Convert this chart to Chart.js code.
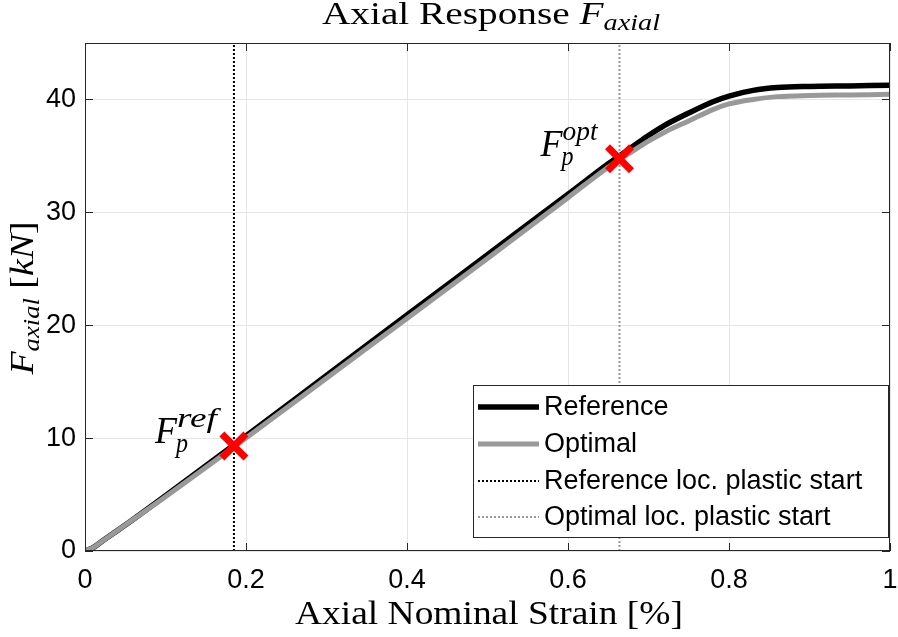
<!DOCTYPE html>
<html>
<head>
<meta charset="utf-8">
<script src="https://cdn.jsdelivr.net/npm/chart.js@4/dist/chart.umd.min.js"></script>
<style>
  html, body { margin: 0; padding: 0; background: #ffffff; }
  #wrap { width: 898px; height: 637px; position: relative; }
</style>
</head>
<body>
<div id="wrap"><canvas id="c" width="898" height="637"></canvas></div>
<script>
// ---- data ----
const strain = [0, 0.01, 0.02, 0.05, 0.1, 0.2, 0.3, 0.4, 0.5, 0.6, 0.65, 0.68, 0.7, 0.72, 0.75, 0.78, 0.8, 0.83, 0.86, 0.9, 0.95, 1.0];
const referenceForce = [0, 0.3, 0.8, 2.3, 4.9, 10.2, 15.55, 20.9, 26.25, 31.6, 34.3, 35.8, 36.8, 37.7, 38.8, 39.8, 40.3, 40.8, 41.05, 41.15, 41.2, 41.25];
const optimalForce = [0, 0.3, 0.8, 2.3, 4.8, 10.0, 15.3, 20.6, 25.9, 31.3, 34.0, 35.4, 36.3, 37.1, 38.1, 39.1, 39.6, 40.0, 40.25, 40.35, 40.4, 40.45];
const plasticStartStrain = [0.185, 0.664];   // reference, optimal
const plasticStartForce = [9.3, 34.75];      // reference, optimal
const seriesLabels = ['Reference', 'Optimal', 'Reference loc. plastic start', 'Optimal loc. plastic start'];
const xTicks = [0, 0.2, 0.4, 0.6, 0.8, 1];
const yTicks = [0, 10, 20, 30, 40];
const xRange = [0, 1];
const yRange = [0, 45];

const pts = (xs, ys) => xs.map((x, i) => ({ x: x, y: ys[i] }));

const SERIF = "'Liberation Serif', 'DejaVu Serif', serif";
const SANS = "'Liberation Sans', Arial, sans-serif";

// draws a run of text pieces, stretched horizontally to targetWidth
function drawRich(ctx, parts, x, y, align, targetWidth) {
  const widths = parts.map(p => {
    ctx.font = (p.italic ? 'italic ' : '') + p.size + 'px ' + SERIF;
    return ctx.measureText(p.t).width;
  });
  const total = widths.reduce((s, w) => s + w, 0);
  const k = targetWidth ? targetWidth / total : 1;
  const tw = total * k;
  let sx = align === 'center' ? x - tw / 2 : (align === 'right' ? x - tw : x);
  ctx.save();
  ctx.translate(sx, y);
  ctx.scale(k, 1);
  ctx.textBaseline = 'alphabetic';
  ctx.textAlign = 'left';
  let cx = 0;
  parts.forEach((p, i) => {
    ctx.font = (p.italic ? 'italic ' : '') + p.size + 'px ' + SERIF;
    ctx.fillText(p.t, cx, p.dy || 0);
    cx += widths[i];
  });
  ctx.restore();
}

const decorations = {
  id: 'decorations',
  afterDatasetsDraw(chart) {
    const { ctx, chartArea: a, scales } = chart;
    const xs = scales.x, ys = scales.y;
    ctx.save();
    // frame
    ctx.strokeStyle = '#262626';
    ctx.lineWidth = 1;
    ctx.strokeRect(a.left + 0.5, a.top + 0.5, a.right - a.left - 1, a.bottom - a.top - 1);
    // inward ticks
    ctx.beginPath();
    xTicks.forEach(v => {
      const px = Math.round(xs.getPixelForValue(v)) + 0.5;
      ctx.moveTo(px, a.bottom); ctx.lineTo(px, a.bottom - 8);
      ctx.moveTo(px, a.top); ctx.lineTo(px, a.top + 8);
    });
    yTicks.forEach(v => {
      const py = Math.round(ys.getPixelForValue(v)) + 0.5;
      ctx.moveTo(a.left, py); ctx.lineTo(a.left + 8, py);
      ctx.moveTo(a.right, py); ctx.lineTo(a.right - 8, py);
    });
    ctx.stroke();

    // legend
    const lx = 473, ly = 385, lw = 415, lh = 152;
    ctx.fillStyle = '#ffffff';
    ctx.fillRect(lx, ly, lw, lh);
    ctx.strokeStyle = '#262626';
    ctx.lineWidth = 1;
    ctx.strokeRect(lx + 0.5, ly + 0.5, lw, lh);
    const rows = [407, 444, 481, 517];
    chart.data.datasets.slice(0, 4).forEach((ds, i) => {
      ctx.beginPath();
      ctx.strokeStyle = ds.borderColor;
      ctx.lineWidth = ds.borderWidth;
      ctx.setLineDash(ds.borderDash || []);
      ctx.moveTo(478, rows[i]); ctx.lineTo(539, rows[i]);
      ctx.stroke();
      ctx.setLineDash([]);
      ctx.fillStyle = '#000000';
      ctx.font = '27px ' + SANS;
      ctx.textBaseline = 'middle';
      ctx.textAlign = 'left';
      ctx.fillText(ds.label, 544, rows[i] + 1);
    });

    // annotations F_p^ref, F_p^opt
    ctx.fillStyle = '#000000';
    const ann = ['ref', 'opt'];
    const annW = [40, 35];
    plasticStartStrain.forEach((sx, i) => {
      const px = xs.getPixelForValue(sx), py = ys.getPixelForValue(plasticStartForce[i]);
      const fx = px - 79, fy = py - 3;
      drawRich(ctx, [{ t: 'F', size: 38, italic: true }], fx, fy, 'left', 22);
      drawRich(ctx, [{ t: ann[i], size: 27, italic: true }], fx + 22, fy - 16, 'left', annW[i]);
      drawRich(ctx, [{ t: 'p', size: 27, italic: true }], fx + 21, fy + 9, 'left', 12);
    });

    // title
    drawRich(ctx, [
      { t: 'Axial Response ', size: 32 },
      { t: 'F', size: 32, italic: true },
      { t: 'axial', size: 23, italic: true, dy: 6 }
    ], 491, 24, 'center', 338);

    // x axis title
    drawRich(ctx, [
      { t: 'Axial Nominal Strain [%]', size: 33 }
    ], 489, 624, 'center', 388);

    // y axis title (rotated)
    ctx.save();
    ctx.translate(33, 298);
    ctx.rotate(-Math.PI / 2);
    drawRich(ctx, [
      { t: 'F', size: 34, italic: true },
      { t: 'axial', size: 24, italic: true, dy: 6 },
      { t: ' [', size: 34 },
      { t: 'kN', size: 34, italic: true },
      { t: ']', size: 34 }
    ], 0, 0, 'center', 153);
    ctx.restore();

    ctx.restore();
  }
};

new Chart(document.getElementById('c'), {
  type: 'line',
  data: {
    datasets: [
      { label: seriesLabels[0], data: pts(strain, referenceForce), borderColor: '#000000', backgroundColor: '#000000', borderWidth: 5.5, pointRadius: 0, cubicInterpolationMode: 'monotone', order: 4 },
      { label: seriesLabels[1], data: pts(strain, optimalForce), borderColor: '#999999', backgroundColor: '#999999', borderWidth: 5, pointRadius: 0, cubicInterpolationMode: 'monotone', order: 3 },
      { label: seriesLabels[2], data: [{ x: plasticStartStrain[0], y: yRange[0] }, { x: plasticStartStrain[0], y: yRange[1] }], borderColor: '#000000', backgroundColor: '#000000', borderWidth: 2, borderDash: [2, 2], pointRadius: 0, order: 2 },
      { label: seriesLabels[3], data: [{ x: plasticStartStrain[1], y: yRange[0] }, { x: plasticStartStrain[1], y: yRange[1] }], borderColor: '#999999', backgroundColor: '#999999', borderWidth: 2, borderDash: [2, 2], pointRadius: 0, order: 2 },
      { label: 'plastic start', data: pts(plasticStartStrain, plasticStartForce), showLine: false, pointStyle: 'crossRot', pointRadius: 17, borderColor: '#ff0000', backgroundColor: '#ff0000', pointBorderWidth: 7, borderWidth: 7, order: 0 }
    ]
  },
  options: {
    responsive: false,
    devicePixelRatio: 1,
    animation: false,
    layout: { autoPadding: false, padding: { top: 43, right: 8, left: 0, bottom: 0 } },
    plugins: { legend: { display: false }, title: { display: false }, tooltip: { enabled: false } },
    scales: {
      x: {
        type: 'linear', min: xRange[0], max: xRange[1],
        afterBuildTicks: s => { s.ticks = xTicks.map(v => ({ value: v })); },
        afterFit: s => { s.height = 86; s.paddingLeft = 0; s.paddingRight = 0; },
        grid: { color: '#e6e6e6', lineWidth: 1, drawTicks: false },
        border: { display: false },
        ticks: { color: '#000000', font: { family: SANS, size: 27 }, padding: 13, maxRotation: 0, callback: v => String(v) }
      },
      y: {
        type: 'linear', min: yRange[0], max: yRange[1],
        afterBuildTicks: s => { s.ticks = yTicks.map(v => ({ value: v })); },
        afterFit: s => { s.width = 85; s.paddingTop = 0; s.paddingBottom = 0; },
        grid: { color: '#e6e6e6', lineWidth: 1, drawTicks: false },
        border: { display: false },
        ticks: { color: '#000000', font: { family: SANS, size: 27 }, padding: 9, callback: v => String(v) }
      }
    }
  },
  plugins: [decorations]
});
</script>
</body>
</html>
